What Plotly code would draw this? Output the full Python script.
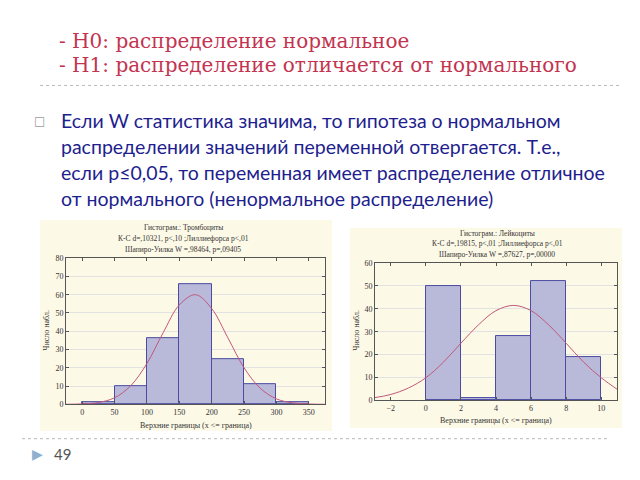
import plotly.graph_objects as go

W, H = 640, 480

# ---------------- data ----------------
header_lines = ["- Н0: распределение нормальное",
                "- Н1: распределение отличается от нормального"]
body_lines = ["Если W статистика значима, то гипотеза о нормальном",
              "распределении значений переменной отвергается. Т.е.,",
              "если р≤0,05, то переменная имеет распределение отличное",
              "от нормального (ненормальное распределение)"]
page_number = "49"

# left histogram: Тромбоциты
left_title = ["Гистограм.: Тромбоциты",
              "К-С d=,10321, p<,10 ;Лиллиефорса p<,01",
              "Шапиро-Уилка W =,98464, p=,09405"]
left_edges = [0, 50, 100, 150, 200, 250, 300, 350]
left_counts = [1, 10, 36, 66, 25, 11, 1]
left_curve_x = [-25, 0, 25, 50, 75, 100, 125, 150, 175, 200, 225, 250, 275, 300, 325, 350, 375]
left_curve_y = [0.05, 0.25, 1.0, 3.6, 10.2, 22.4, 39.2, 54.4, 60.0, 52.4, 36.4, 20.0, 8.8, 3.0, 0.8, 0.2, 0.03]
left_xticks = [0, 50, 100, 150, 200, 250, 300, 350]
left_yticks = [0, 10, 20, 30, 40, 50, 60, 70, 80]

# right histogram: Лейкоциты
right_title = ["Гистограм.: Лейкоциты",
               "К-С d=,19815, p<,01 ;Лиллиефорса p<,01",
               "Шапиро-Уилка W =,87627, p=,00000"]
right_edges = [0, 2, 4, 6, 8, 10]
right_counts = [50, 1, 28, 52, 19]
right_curve_x = [-3, -2, -1, 0, 1, 2, 3, 4, 5, 6, 7, 8, 9, 10, 11]
right_curve_y = [1.1, 2.6, 5.4, 9.9, 16.7, 25.0, 33.0, 39.2, 41.5, 39.2, 33.0, 25.0, 16.7, 9.9, 4.4]
right_xticks = [-2, 0, 2, 4, 6, 8, 10]
right_yticks = [0, 10, 20, 30, 40, 50, 60]

x_title = "Верхние границы (x <= граница)"
y_title = "Число набл."

# ---------------- style ----------------
BAR_FILL = "#b9bad9"
BAR_LINE = "#4b4ba3"
CURVE = "#c0587a"
PANEL = "#fdf9e7"
RED = "#c2344f"
NAVY = "#1e1e8e"
SERIF = "DejaVu Serif"
TICKFONT = dict(family="Liberation Serif", size=8, color="#333333")


def px(x):
    return x / W


def py(y):
    return 1 - y / H


fig = go.Figure()

# histograms
for edges, counts, xa, ya in [(left_edges, left_counts, "x", "y"),
                              (right_edges, right_counts, "x2", "y2")]:
    centers = [(edges[i] + edges[i + 1]) / 2 for i in range(len(counts))]
    widths = [edges[i + 1] - edges[i] for i in range(len(counts))]
    fig.add_trace(go.Bar(x=centers, y=counts, width=widths,
                         marker=dict(color=BAR_FILL, line=dict(color=BAR_LINE, width=1)),
                         xaxis=xa, yaxis=ya, showlegend=False))

fig.add_trace(go.Scatter(x=left_curve_x, y=left_curve_y, mode="lines",
                         line=dict(color=CURVE, width=1, shape="spline"),
                         xaxis="x", yaxis="y", showlegend=False))
fig.add_trace(go.Scatter(x=right_curve_x, y=right_curve_y, mode="lines",
                         line=dict(color=CURVE, width=1, shape="spline"),
                         xaxis="x2", yaxis="y2", showlegend=False))

axis_common = dict(showline=True, linecolor="#555555", linewidth=1, mirror="ticks",
                   ticks="inside", ticklen=3, tickcolor="#555555",
                   tickfont=TICKFONT, zeroline=False, fixedrange=True)

fig.update_layout(
    width=W, height=H,
    margin=dict(l=0, r=0, t=0, b=0),
    paper_bgcolor="white", plot_bgcolor="white",
    bargap=0,
    xaxis=dict(domain=[px(66), px(325)], range=[-25, 375], tickvals=left_xticks,
               anchor="y", showgrid=False, **axis_common),
    yaxis=dict(domain=[py(408), py(259)], range=[0, 80], tickvals=left_yticks,
               anchor="x", showgrid=True, gridcolor="#e2e2e2", **axis_common),
    xaxis2=dict(domain=[px(375), px(617)], range=[-2.9, 10.9], tickvals=right_xticks,
                anchor="y2", showgrid=False, **axis_common),
    yaxis2=dict(domain=[py(404), py(264)], range=[0, 60], tickvals=right_yticks,
                anchor="x2", showgrid=True, gridcolor="#e2e2e2", **axis_common),
)

shapes = [
    dict(type="rect", xref="paper", yref="paper", x0=px(40), x1=px(332), y0=py(435), y1=py(220),
         fillcolor=PANEL, line=dict(width=0), layer="below"),
    dict(type="rect", xref="paper", yref="paper", x0=px(350), x1=px(622), y0=py(432), y1=py(228),
         fillcolor=PANEL, line=dict(width=0), layer="below"),
    dict(type="line", xref="paper", yref="paper", x0=px(40), x1=px(622), y0=py(83), y1=py(83),
         line=dict(color="#b8b8b8", width=1, dash="dot")),
    dict(type="line", xref="paper", yref="paper", x0=px(22), x1=px(608), y0=py(443), y1=py(443),
         line=dict(color="#b8b8b8", width=1, dash="dot")),
]
fig.update_layout(shapes=shapes)

ann = []


def text(x, y, s, size, color, family, xanchor="left", angle=0):
    ann.append(dict(x=px(x), y=py(y), xref="paper", yref="paper", text=s, showarrow=False,
                    xanchor=xanchor, yanchor="middle", textangle=angle,
                    font=dict(size=size, color=color, family=family)))


# header
for i, s in enumerate(header_lines):
    text(57, 38 + i * 24, s, 20, RED, SERIF)

# bullet + body
text(32, 119, "□", 12, "#9a9a9a", "DejaVu Sans")
for i, s in enumerate(body_lines):
    text(59, 119 + i * 26.5, s, 19.5, NAVY, "Lato")

# chart titles
for i, s in enumerate(left_title):
    text(183, 228 + i * 11, s, 7.5, "#333333", "Liberation Serif", xanchor="center")
for i, s in enumerate(right_title):
    text(497, 234 + i * 10.5, s, 7.5, "#333333", "Liberation Serif", xanchor="center")

# axis titles
text(196, 430, x_title, 8, "#333333", "Liberation Serif", xanchor="center")
text(496, 424, x_title, 8, "#333333", "Liberation Serif", xanchor="center")
text(47, 333, y_title, 8, "#333333", "Liberation Serif", xanchor="center", angle=-90)
text(357, 333, y_title, 8, "#333333", "Liberation Serif", xanchor="center", angle=-90)

# page number
text(30, 459, "▶", 14, "#8fb0cf", "DejaVu Sans")
text(52, 459, page_number, 15, "#555555", "Lato")

fig.update_layout(annotations=ann)

fig.write_html("out.html")
